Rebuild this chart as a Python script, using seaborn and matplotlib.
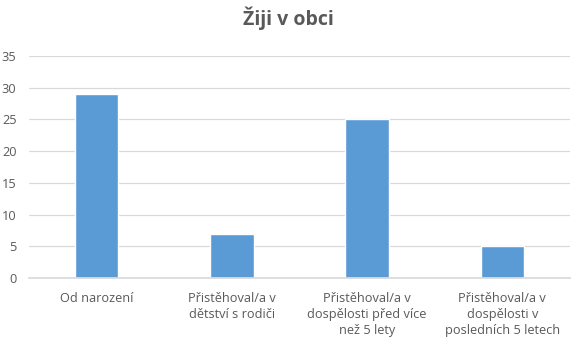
import matplotlib
matplotlib.use("Agg")
import matplotlib.pyplot as plt
import seaborn as sns
import pandas as pd

categories = ["Od narození",
              "Přistěhoval/a v\ndětství s rodiči",
              "Přistěhoval/a v\ndospělosti před více\nnež 5 lety",
              "Přistěhoval/a v\ndospělosti v\nposledních 5 letech"]
values = [29, 7, 25, 5]
yticks = [0, 5, 10, 15, 20, 25, 30, 35]
title = "Žiji v obci"

sns.set_theme(style="white")
plt.rcParams['font.family'] = ['Open Sans', 'DejaVu Sans']

df = pd.DataFrame({"cat": categories, "val": values})
fig = plt.figure(figsize=(5.77, 3.48), dpi=100)
ax = fig.add_axes([29/577, 70/348, 541/577, 222/348])
sns.barplot(data=df, x="cat", y="val", color="#5B9BD5", width=0.32, ax=ax, saturation=1)
ax.set_ylim(0, 35)
ax.set_yticks(yticks)
ax.set_xlim(-0.5, 3.5)
ax.yaxis.grid(True, color="#D9D9D9", linewidth=0.9)
ax.set_axisbelow(True)
for s in ["top", "right", "left"]:
    ax.spines[s].set_visible(False)
ax.spines["bottom"].set_color("#D9D9D9")
ax.tick_params(axis="both", length=0, labelsize=9.2, labelcolor="#595959")
ax.tick_params(axis="x", pad=10)
ax.tick_params(axis="y", pad=9)
ax.set_xlabel("")
ax.set_ylabel("")
for t in ax.get_xticklabels():
    t.set_linespacing(1.3)
fig.text(0.5, 1 - 18/348, title, ha="center", va="center", fontsize=14, fontweight="bold", color="#595959")
fig.savefig("out.png", dpi=100)
